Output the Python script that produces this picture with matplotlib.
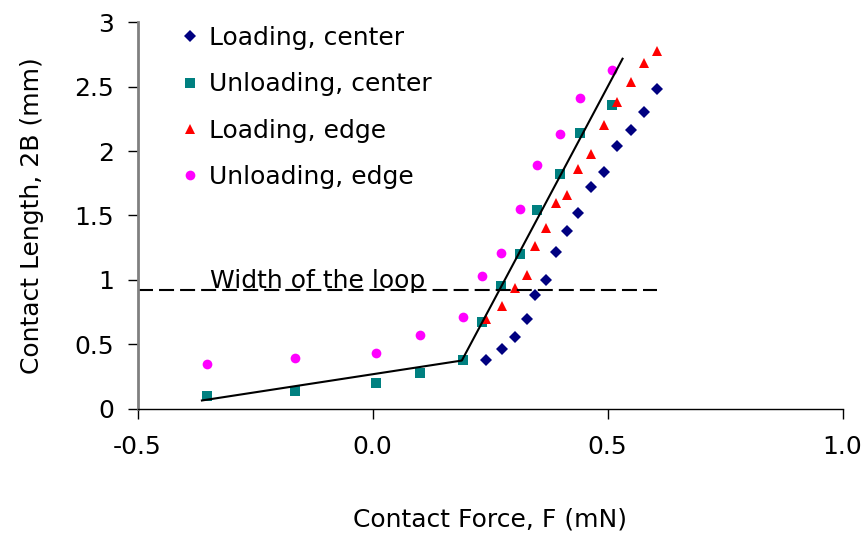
import matplotlib
matplotlib.use("Agg")
import matplotlib.pyplot as plt

plt.rcParams['font.family'] = ['DejaVu Sans']

# contact force (mN) at each measuring step
force_loading = [0.241, 0.275, 0.303, 0.328, 0.346, 0.370, 0.390, 0.414,
                 0.437, 0.465, 0.492, 0.520, 0.549, 0.578, 0.606]
force_unloading = [-0.352, -0.165, 0.007, 0.102, 0.192, 0.232, 0.273,
                   0.313, 0.349, 0.398, 0.441, 0.510]

# contact length 2B (mm)
len_loading_center = [0.38, 0.46, 0.56, 0.70, 0.88, 1.00, 1.22, 1.38,
                      1.52, 1.72, 1.84, 2.04, 2.16, 2.30, 2.48]
len_unloading_center = [0.10, 0.14, 0.20, 0.28, 0.38, 0.67, 0.95, 1.20,
                        1.54, 1.82, 2.14, 2.36]
len_loading_edge = [0.70, 0.80, 0.94, 1.04, 1.26, 1.40, 1.60, 1.66,
                    1.86, 1.98, 2.20, 2.38, 2.54, 2.68, 2.78]
len_unloading_edge = [0.35, 0.39, 0.43, 0.57, 0.71, 1.03, 1.21, 1.55,
                      1.89, 2.13, 2.41, 2.63]

# two-segment fit through the unloading data
fit_x = [-0.363, 0.190, 0.532]
fit_y = [0.064, 0.374, 2.717]

# width of the loop
loop_x = [-0.5, 0.605]
loop_y = [0.925, 0.925]

fig = plt.figure(figsize=(8.65, 5.38), dpi=100)
ax = fig.add_axes([0.159, 0.2403, 0.815, 0.7183])

ms = dict(linestyle='none', markeredgewidth=0)
ax.plot(force_loading, len_loading_center, marker='D', markersize=6.2,
        color='#000080', label='Loading, center', **ms)
ax.plot(force_unloading, len_unloading_center, marker='s', markersize=7.6,
        color='#008080', label='Unloading, center', **ms)
ax.plot(force_loading, len_loading_edge, marker='^', markersize=7.8,
        color='#FF0000', label='Loading, edge', **ms)
ax.plot(force_unloading, len_unloading_edge, marker='o', markersize=7.0,
        color='#FF00FF', label='Unloading, edge', **ms)

ax.plot(fit_x, fit_y, color='black', linewidth=1.5)
ax.plot(loop_x, loop_y, color='black', linewidth=1.5, dashes=(7.2, 2.9))
ax.text(-0.345, 0.935, 'Width of the loop', fontsize=18, va='baseline')

ax.set_xlim(-0.5, 1.0)
ax.set_ylim(0, 3)
ax.set_xticks([-0.5, 0.0, 0.5, 1.0])
ax.set_xticklabels(['-0.5', '0.0', '0.5', '1.0'])
ax.set_yticks([0, 0.5, 1, 1.5, 2, 2.5, 3])
ax.set_yticklabels(['0', '0.5', '1', '1.5', '2', '2.5', '3'])
ax.tick_params(axis='both', labelsize=18, length=7, width=1, color='black')
ax.tick_params(axis='x', pad=12)
ax.tick_params(axis='y', pad=10)

ax.spines['top'].set_visible(False)
ax.spines['right'].set_visible(False)
ax.spines['left'].set_color('#808080')
ax.spines['left'].set_linewidth(2)
ax.spines['bottom'].set_color('black')
ax.spines['bottom'].set_linewidth(1)

ax.set_xlabel('Contact Force, F (mN)', fontsize=18, labelpad=35)
ax.set_ylabel('Contact Length, 2B (mm)', fontsize=18, labelpad=22)

ax.legend(loc='upper left', bbox_to_anchor=(0.029, 1.048), frameon=False,
          fontsize=18, handlelength=0.8, handletextpad=0.36,
          labelspacing=0.89, numpoints=1)

fig.savefig('out.png', dpi=100)
